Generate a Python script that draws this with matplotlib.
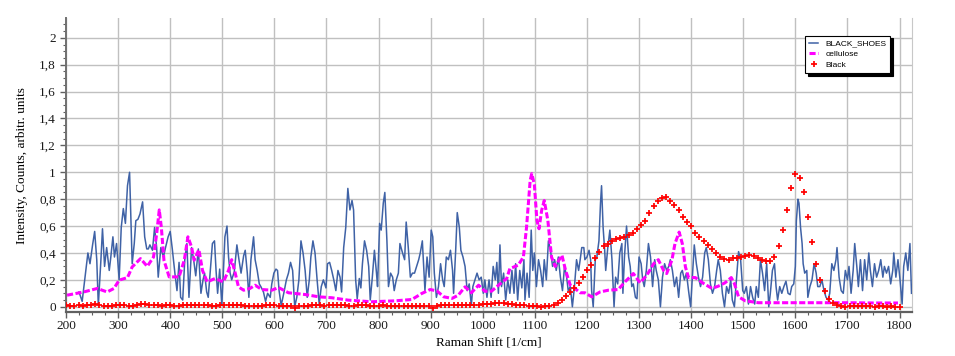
import numpy as np
import matplotlib.pyplot as plt
from matplotlib.ticker import MultipleLocator, FuncFormatter

# ---------------- data ----------------
# BLACK_SHOES (noisy blue trace)
blue_x = [225, 231, 238, 242, 246, 251, 255, 259, 262, 267, 270, 274, 278, 283, 286,
          290, 293, 297, 302, 306, 310, 314, 318, 322, 324, 327, 331, 334, 338, 342,
          347, 351, 355, 358, 361, 366, 370, 374, 377, 382, 387, 391, 396, 400, 404,
          409, 413, 417, 420, 424, 428, 432, 436, 441, 445, 449, 454, 459, 463, 466,
          470, 473, 477, 481, 485, 488, 491, 495, 499, 502, 505, 509, 512, 515, 518,
          523, 528, 532, 536, 541, 544, 548, 551, 555, 560, 563, 567, 571, 574, 579,
          583, 587, 592, 595, 599, 603, 606, 609, 613, 618, 623, 627, 631, 635, 639,
          643, 647, 651, 655, 659, 663, 667, 670, 674, 678, 682, 686, 690, 694, 699,
          702, 706, 710, 714, 718, 722, 726, 729, 733, 737, 741, 745, 749, 752, 754,
          756, 759, 763, 766, 769, 773, 777, 781, 784, 788, 792, 796, 798, 802, 805,
          809, 812, 816, 819, 823, 827, 830, 834, 838, 841, 846, 850, 853, 857, 861,
          865, 869, 873, 877, 880, 884, 887, 889, 893, 897, 901, 904, 907, 911, 915,
          919, 923, 926, 930, 934, 938, 942, 944, 948, 951, 955, 958, 962, 966, 970,
          974, 978, 981, 985, 989, 993, 997, 1001, 1004, 1008, 1012, 1016, 1020, 1024, 1027,
          1030, 1033, 1036, 1040, 1044, 1048, 1052, 1056, 1060, 1063, 1067, 1071, 1075, 1079, 1081,
          1085, 1089, 1093, 1096, 1099, 1103, 1107, 1111, 1115, 1118, 1122, 1126, 1130, 1134, 1138,
          1141, 1145, 1149, 1153, 1157, 1161, 1164, 1168, 1172, 1176, 1180, 1184, 1187, 1190, 1194,
          1196, 1200, 1204, 1207, 1209, 1212, 1216, 1219, 1223, 1226, 1228, 1231, 1234, 1236, 1240,
          1244, 1248, 1252, 1255, 1259, 1263, 1267, 1269, 1272, 1276, 1280, 1283, 1286, 1289, 1293,
          1296, 1300, 1304, 1307, 1310, 1314, 1318, 1322, 1326, 1330, 1333, 1337, 1341, 1345, 1349,
          1353, 1357, 1360, 1364, 1368, 1372, 1376, 1380, 1383, 1387, 1391, 1395, 1399, 1403, 1406,
          1410, 1414, 1418, 1422, 1426, 1429, 1433, 1437, 1441, 1445, 1449, 1452, 1456, 1460, 1464,
          1468, 1472, 1476, 1479, 1483, 1487, 1491, 1495, 1499, 1502, 1506, 1510, 1514, 1518, 1522,
          1525, 1529, 1533, 1537, 1541, 1545, 1549, 1552, 1556, 1560, 1563, 1566, 1570, 1574, 1578,
          1582, 1586, 1590, 1593, 1597, 1600, 1602, 1605, 1607, 1610, 1613, 1615, 1618, 1622, 1624,
          1628, 1632, 1636, 1640, 1643, 1647, 1651, 1655, 1659, 1663, 1666, 1670, 1674, 1678, 1680,
          1684, 1688, 1692, 1696, 1700, 1703, 1707, 1711, 1714, 1718, 1721, 1725, 1729, 1733, 1737,
          1741, 1744, 1748, 1752, 1756, 1760, 1764, 1768, 1771, 1775, 1779, 1783, 1787, 1789, 1793,
          1797, 1801, 1805, 1808, 1812, 1816, 1820, 1823]
blue_y = [0.11, 0.04, 0.27, 0.40, 0.32, 0.46, 0.56, 0.35, 0.01, 0.35, 0.58, 0.30, 0.44, 0.27, 0.37,
          0.52, 0.37, 0.47, 0.20, 0.59, 0.73, 0.62, 0.90, 1.00, 0.72, 0.32, 0.47, 0.64, 0.65, 0.69,
          0.78, 0.52, 0.43, 0.43, 0.46, 0.42, 0.59, 0.44, 0.22, 0.44, 0.37, 0.44, 0.52, 0.56, 0.43,
          0.25, 0.12, 0.33, 0.07, 0.05, 0.35, 0.47, 0.07, 0.44, 0.35, 0.23, 0.43, 0.10, 0.20, 0.25,
          0.11, 0.07, 0.27, 0.47, 0.49, 0.27, 0.10, 0.28, 0.01, 0.25, 0.52, 0.60, 0.37, 0.25, 0.20,
          0.26, 0.46, 0.35, 0.25, 0.38, 0.42, 0.25, 0.07, 0.35, 0.52, 0.35, 0.27, 0.17, 0.15, 0.11,
          0.04, 0.10, 0.07, 0.17, 0.25, 0.28, 0.27, 0.12, 0.01, 0.10, 0.20, 0.25, 0.33, 0.27, 0.00,
          0.07, 0.20, 0.49, 0.40, 0.27, 0.07, 0.20, 0.37, 0.49, 0.40, 0.20, 0.02, 0.15, 0.20, 0.14,
          0.32, 0.33, 0.27, 0.20, 0.12, 0.27, 0.22, 0.11, 0.44, 0.59, 0.88, 0.72, 0.79, 0.72, 0.47,
          0.20, 0.06, 0.21, 0.14, 0.32, 0.49, 0.42, 0.30, 0.05, 0.22, 0.42, 0.25, 0.15, 0.62, 0.57,
          0.77, 0.85, 0.49, 0.15, 0.25, 0.22, 0.12, 0.20, 0.25, 0.47, 0.40, 0.35, 0.63, 0.44, 0.22,
          0.25, 0.25, 0.30, 0.35, 0.40, 0.49, 0.27, 0.12, 0.37, 0.22, 0.57, 0.52, 0.25, 0.07, 0.15,
          0.32, 0.20, 0.15, 0.37, 0.35, 0.42, 0.27, 0.10, 0.42, 0.70, 0.59, 0.42, 0.37, 0.30, 0.12,
          0.17, 0.01, 0.15, 0.20, 0.25, 0.20, 0.22, 0.10, 0.20, 0.07, 0.20, 0.07, 0.30, 0.20, 0.33,
          0.10, 0.46, 0.15, 0.25, 0.05, 0.20, 0.10, 0.27, 0.10, 0.32, 0.05, 0.27, 0.14, 0.35, 0.05,
          0.25, 0.07, 0.57, 0.27, 0.40, 0.15, 0.35, 0.27, 0.15, 0.35, 0.20, 0.49, 0.42, 0.30, 0.35,
          0.27, 0.37, 0.22, 0.12, 0.30, 0.22, 0.12, 0.15, 0.00, 0.15, 0.35, 0.27, 0.35, 0.44, 0.44,
          0.35, 0.37, 0.42, 0.35, 0.12, 0.00, 0.35, 0.37, 0.49, 0.77, 0.90, 0.59, 0.42, 0.27, 0.44,
          0.57, 0.35, 0.00, 0.22, 0.17, 0.40, 0.47, 0.10, 0.37, 0.60, 0.37, 0.30, 0.15, 0.17, 0.07,
          0.06, 0.37, 0.32, 0.20, 0.15, 0.27, 0.47, 0.37, 0.15, 0.35, 0.27, 0.20, 0.00, 0.22, 0.32,
          0.27, 0.30, 0.35, 0.27, 0.15, 0.22, 0.07, 0.25, 0.27, 0.20, 0.25, 0.12, 0.00, 0.27, 0.46,
          0.32, 0.22, 0.15, 0.22, 0.40, 0.44, 0.35, 0.17, 0.10, 0.15, 0.27, 0.35, 0.27, 0.10, 0.00,
          0.15, 0.10, 0.20, 0.05, 0.00, 0.20, 0.41, 0.35, 0.12, 0.10, 0.15, 0.02, 0.15, 0.07, 0.02,
          0.15, 0.07, 0.35, 0.25, 0.12, 0.32, 0.00, 0.10, 0.27, 0.32, 0.15, 0.05, 0.15, 0.10, 0.15,
          0.19, 0.10, 0.09, 0.15, 0.17, 0.30, 0.64, 0.80, 0.77, 0.59, 0.47, 0.32, 0.25, 0.27, 0.07,
          0.15, 0.20, 0.32, 0.25, 0.15, 0.15, 0.20, 0.12, 0.07, 0.05, 0.10, 0.32, 0.27, 0.35, 0.44,
          0.22, 0.12, 0.10, 0.27, 0.20, 0.30, 0.10, 0.27, 0.47, 0.30, 0.15, 0.35, 0.12, 0.35, 0.20,
          0.40, 0.27, 0.15, 0.32, 0.22, 0.27, 0.35, 0.22, 0.30, 0.25, 0.30, 0.17, 0.27, 0.40, 0.22,
          0.35, 0.20, 0.02, 0.30, 0.40, 0.27, 0.47, 0.10]

# cellulose (magenta, dashed)
cell_x = [202, 234, 260, 279, 292, 302, 318, 327, 343, 356, 368, 374, 379, 383, 388,
          398, 417, 427, 434, 441, 446, 455, 462, 471, 486, 502, 512, 518, 525, 531,
          541, 553, 563, 576, 595, 608, 627, 659, 685, 710, 742, 787, 832, 864, 883,
          899, 912, 925, 941, 953, 966, 978, 992, 1004, 1017, 1030, 1046, 1052, 1068, 1078,
          1084, 1091, 1094, 1099, 1104, 1108, 1113, 1118, 1125, 1132, 1139, 1152, 1159, 1168, 1177,
          1187, 1196, 1209, 1225, 1241, 1260, 1273, 1289, 1302, 1315, 1328, 1337, 1347, 1353, 1363,
          1369, 1377, 1383, 1389, 1395, 1408, 1424, 1440, 1452, 1465, 1477, 1483, 1491, 1504, 1529,
          1552, 1600, 1650, 1700, 1750, 1797]
cell_y = [0.086, 0.11, 0.136, 0.11, 0.136, 0.198, 0.217, 0.296, 0.358, 0.30, 0.37, 0.543, 0.72, 0.59, 0.346,
          0.222, 0.222, 0.346, 0.52, 0.444, 0.346, 0.425, 0.27, 0.185, 0.21, 0.185, 0.27, 0.35, 0.247, 0.148,
          0.123, 0.136, 0.16, 0.128, 0.123, 0.143, 0.104, 0.091, 0.074, 0.067, 0.049, 0.037, 0.044, 0.054, 0.099,
          0.128, 0.118, 0.074, 0.062, 0.086, 0.148, 0.104, 0.16, 0.115, 0.116, 0.16, 0.21, 0.284, 0.309, 0.37,
          0.59, 0.94, 0.99, 0.91, 0.64, 0.58, 0.716, 0.79, 0.64, 0.37, 0.30, 0.383, 0.27, 0.16, 0.136,
          0.104, 0.104, 0.074, 0.11, 0.123, 0.128, 0.185, 0.247, 0.178, 0.235, 0.32, 0.35, 0.27, 0.247, 0.346,
          0.47, 0.555, 0.47, 0.296, 0.217, 0.217, 0.173, 0.136, 0.153, 0.178, 0.217, 0.173, 0.074, 0.044, 0.03,
          0.03, 0.03, 0.03, 0.03, 0.028, 0.028]

# Black (red pluses), sampled every 8 1/cm from 200 to 1800
black_y = [
    0.010, 0.006, 0.008, 0.012, 0.006, 0.010, 0.016, 0.018, 0.010, 0.006, 0.008, 0.005, 0.010,   # 200-296
    0.014, 0.012, 0.008, 0.006, 0.012, 0.018, 0.020, 0.015, 0.012, 0.010, 0.008, 0.014, 0.012,   # 304-400
    0.006, 0.008, 0.012, 0.016, 0.014, 0.010, 0.012, 0.016, 0.010, 0.006, 0.008, 0.012, 0.010,   # 408-504
    0.012, 0.016, 0.014, 0.010, 0.008, 0.004, 0.002, 0.006, 0.008, 0.010, 0.012, 0.010, 0.008,   # 512-608
    0.004, 0.008, 0.004, -0.010, 0.006, 0.008, 0.006, 0.010, 0.014, 0.012, 0.008, 0.010, 0.012,  # 616-712
    0.016, 0.012, 0.010, 0.008, 0.006, 0.010, 0.012, 0.010, 0.008, 0.006, 0.008, 0.010, 0.006,   # 720-816
    0.004, 0.006, 0.008, 0.006, 0.004, 0.004, 0.002, 0.004, 0.006, 0.002, -0.008, 0.004, 0.010,  # 824-920
    0.014, 0.016, 0.012, 0.010, 0.012, 0.014, 0.010, 0.012, 0.016, 0.020, 0.018, 0.022, 0.026,   # 928-1024
    0.030, 0.028, 0.024, 0.018, 0.014, 0.010, 0.012, 0.008, 0.004, 0.002, 0.000, 0.002, 0.004,   # 1032-1128
    0.010,                                                                                        # 1136
    0.025, 0.05, 0.08, 0.11, 0.14, 0.18, 0.22, 0.27, 0.31, 0.36,                                 # 1144-1216
    0.41, 0.45, 0.47, 0.49, 0.505, 0.51, 0.52, 0.53, 0.55, 0.58,                                 # 1224-1296
    0.61, 0.64, 0.70, 0.75, 0.79, 0.81, 0.815, 0.79, 0.76, 0.72,                                 # 1304-1376
    0.67, 0.63, 0.60, 0.55, 0.52, 0.49, 0.46, 0.43, 0.40, 0.37,                                  # 1384-1456
    0.355, 0.35, 0.36, 0.365, 0.37, 0.375, 0.383, 0.375, 0.36, 0.345,                            # 1464-1536
    0.34, 0.34, 0.37, 0.455, 0.57, 0.72, 0.88, 0.99, 0.96, 0.85,                                 # 1544-1616
    0.67, 0.48, 0.32, 0.20, 0.12, 0.06, 0.025, 0.01, 0.005, 0.0,                                 # 1624-1696
    0.004, 0.002, 0.006, 0.004, 0.008, 0.004, 0.0, 0.004, 0.002, 0.0,                            # 1704-1776
    0.004, 0.0, -0.004]                                                                           # 1784-1800
black_x = np.arange(200, 200 + 8 * len(black_y), 8)

y_ticks = np.arange(0, 2.01, 0.2)
x_ticks = np.arange(200, 1801, 100)

############## plotting ####################
fig = plt.figure(figsize=(9.55, 3.56), dpi=100)
ax = fig.add_axes([0.0688, 0.1236, 0.8862, 0.8254])

ax.plot(blue_x, blue_y, color='#3f62a6', lw=1.1, label='BLACK_SHOES', zorder=3)
ax.plot(cell_x, cell_y, color='#ff00ff', lw=2.2, ls=(0, (2.0, 0.8)), label='cellulose', zorder=4)
ax.plot(black_x, black_y, color='#ff0000', ls='none', marker='+', ms=4.0, mew=1.25,
        label='Black', zorder=5)

ax.set_xlim(199.4, 1824)
ax.set_ylim(-0.039, 2.146)
ax.set_xticks(x_ticks)
ax.set_yticks(y_ticks)
ax.xaxis.set_minor_locator(MultipleLocator(25))
ax.yaxis.set_minor_locator(MultipleLocator(0.05))
ax.yaxis.set_major_formatter(FuncFormatter(lambda v, p: ('%g' % round(v, 2)).replace('.', ',')))

ax.grid(True, which='major', color='#c0c0c0', lw=1.0, zorder=0)
ax.set_axisbelow(True)

ax.spines['top'].set_visible(False)
ax.spines['right'].set_color('#c8c8c8')
ax.spines['left'].set_color('#707070')
ax.spines['bottom'].set_color('#606060')
ax.spines['left'].set_linewidth(1.4)
ax.spines['bottom'].set_linewidth(1.6)

ax.tick_params(which='major', direction='out', length=4, color='#606060', width=1,
               labelsize=9.5, labelcolor='#1a1a1a')
ax.tick_params(which='minor', direction='out', length=2.5, color='#606060', width=0.8)
ax.tick_params(axis='x', pad=2)
ax.tick_params(axis='y', pad=3)
for lab in ax.get_xticklabels() + ax.get_yticklabels():
    lab.set_fontfamily('Liberation Serif')

ax.set_xlabel('Raman Shift [1/cm]', fontfamily='Liberation Serif', fontsize=9.5, labelpad=3)
ax.set_ylabel('Intensity, Counts, arbitr. units', fontfamily='Liberation Serif', fontsize=9.5,
              labelpad=8)

leg = ax.legend(loc='upper left', bbox_to_anchor=(0.869, 0.955), fancybox=False,
                shadow={'color': 'black', 'alpha': 1.0, 'ox': 2, 'oy': -2},
                prop={'family': 'Liberation Sans', 'size': 6},
                handlelength=1.0, handletextpad=0.9, borderpad=0.5, labelspacing=0.35,
                framealpha=1)
leg.get_frame().set_edgecolor('black')
leg.get_frame().set_linewidth(0.8)

fig.savefig('out.png', dpi=100)
